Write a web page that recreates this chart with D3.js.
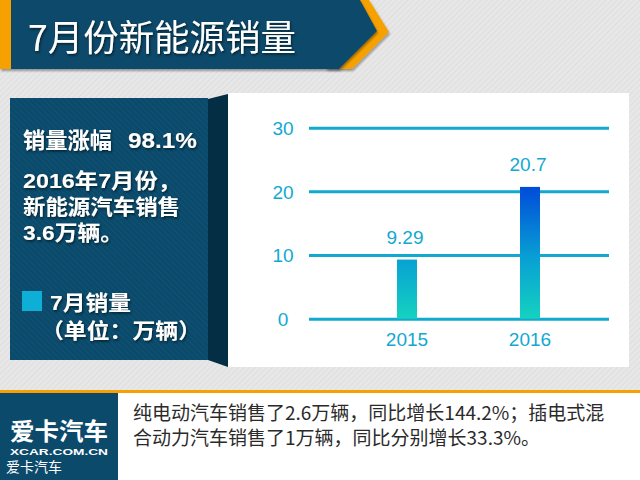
<!DOCTYPE html>
<html><head><meta charset="utf-8">
<script src="https://cdn.jsdelivr.net/npm/d3@7"></script>
<style>
html,body{margin:0;padding:0;background:#e6e6e6;}
svg{display:block;}
</style></head>
<body>
<svg id="c" width="640" height="480"></svg>
<script>
// ---- data ----
const categories = ["2015", "2016"];
const values = [9.29, 20.7];
const valueLabels = ["9.29", "20.7"];
const yTicks = [0, 10, 20, 30];
const titleText = "7月份新能源销量";
const headline = ["销量涨幅", "98.1%"];
const summaryLines = ["2016年7月份，", "新能源汽车销售", "3.6万辆。"];
const legendLines = ["7月销量", "（单位：万辆）"];
const noteLines = ["纯电动汽车销售了2.6万辆，同比增长144.2%；插电式混", "合动力汽车销售了1万辆，同比分别增长33.3%。"];
const logoLines = ["爱卡汽车", "XCAR.COM.CN", "爱卡汽车"];

const CJK = "'Noto Sans CJK SC','Noto Sans',sans-serif";
const LAT = "'Liberation Sans',Arial,sans-serif";
const MIX = "'Liberation Sans','Noto Sans CJK SC',sans-serif";
const cyan = "#11a9d0";

const svg = d3.select("#c");
const defs = svg.append("defs");

// textures
const bgPat = defs.append("pattern").attr("id","bgPat").attr("width",4).attr("height",4)
  .attr("patternUnits","userSpaceOnUse").attr("patternTransform","rotate(45)");
bgPat.append("rect").attr("width",4).attr("height",4).attr("fill","#e7e7e7");
bgPat.append("rect").attr("width",1).attr("height",4).attr("fill","#dedede");

const pnPat = defs.append("pattern").attr("id","pnPat").attr("width",4).attr("height",4)
  .attr("patternUnits","userSpaceOnUse").attr("patternTransform","rotate(-45)");
pnPat.append("rect").attr("width",4).attr("height",4).attr("fill","#0b4a6b");
pnPat.append("rect").attr("width",1).attr("height",4).attr("fill","#0f5274");

const sh = defs.append("filter").attr("id","sh").attr("x","-10%").attr("y","-10%").attr("width","130%").attr("height","140%");
sh.append("feDropShadow").attr("dx",1).attr("dy",2).attr("stdDeviation",1.2).attr("flood-color","#000").attr("flood-opacity",0.35);
const tsh = defs.append("filter").attr("id","tsh").attr("x","-5%").attr("y","-20%").attr("width","120%").attr("height","150%");
tsh.append("feDropShadow").attr("dx",1).attr("dy",1.5).attr("stdDeviation",0.8).attr("flood-color","#001a28").attr("flood-opacity",0.9);

// background
svg.append("rect").attr("width",640).attr("height",480).attr("fill","url(#bgPat)");

// title banner
svg.append("polygon").attr("points","339,0 369,0 389,32 352,69 326,69").attr("fill","#f7a100").attr("filter","url(#sh)");
svg.append("polygon").attr("points","0,0 360,0 377,31 339,69 0,69").attr("fill","#0b4a6b").attr("filter","url(#sh)");
svg.append("rect").attr("x",0).attr("y",0).attr("width",11).attr("height",69).attr("fill","#f7a100");
svg.append("text").attr("x",28).attr("y",51).attr("fill","#fff")
  .attr("font-family",CJK).attr("font-size",36).attr("filter","url(#tsh)")
  .attr("textLength",268).attr("lengthAdjust","spacingAndGlyphs").text(titleText);

// left panel
svg.append("polygon").attr("points","208,99 228,94 228,367 208,360").attr("fill","#032e44");
svg.append("rect").attr("x",10).attr("y",98).attr("width",198).attr("height",262).attr("fill","url(#pnPat)");

const lt = svg.append("g").attr("fill","#fff").attr("font-family",MIX).attr("filter","url(#tsh)").attr("font-weight","bold");
lt.append("text").attr("x",23).attr("y",148).attr("font-size",22).attr("font-family",CJK)
  .attr("textLength",89).attr("lengthAdjust","spacingAndGlyphs").text(headline[0]);
lt.append("text").attr("x",128).attr("y",148).attr("font-size",22)
  .attr("textLength",69).attr("lengthAdjust","spacingAndGlyphs").text(headline[1]);
const sumLen = [158, 157, 100];
summaryLines.forEach((s,i)=>{
  lt.append("text").attr("x",23).attr("y",[188,214,240][i]).attr("font-size",21)
    .attr("textLength",sumLen[i]).attr("lengthAdjust","spacingAndGlyphs").text(s);
});
svg.append("rect").attr("x",22).attr("y",291).attr("width",20).attr("height",20).attr("fill","#0eafd6");
lt.append("text").attr("x",50).attr("y",310).attr("font-size",21)
  .attr("textLength",81).attr("lengthAdjust","spacingAndGlyphs").text(legendLines[0]);
lt.append("text").attr("x",41).attr("y",338).attr("font-size",21).attr("font-family",CJK)
  .attr("textLength",160).attr("lengthAdjust","spacingAndGlyphs").text(legendLines[1]);

// chart panel
svg.append("rect").attr("x",228).attr("y",93).attr("width",401).attr("height",274).attr("fill","#fff");

const y = d3.scaleLinear().domain([0,30]).range([318.7,127.7]);
const x = d3.scaleBand().domain(categories).range([345.5,591.5]).paddingInner(0.8374).paddingOuter(0.4187);

const grad = defs.append("linearGradient").attr("id","barGrad").attr("gradientUnits","userSpaceOnUse")
  .attr("x1",0).attr("x2",0).attr("y1",y(0)).attr("y2",y(21.3));
grad.append("stop").attr("offset",0).attr("stop-color","#14d2bf");
grad.append("stop").attr("offset",0.45).attr("stop-color","#08a0d4");
grad.append("stop").attr("offset",1).attr("stop-color","#0047d9");

const yAxis = d3.axisLeft(y).tickValues(yTicks).tickSize(-300).tickPadding(0).tickFormat(d3.format("d"));
const ga = svg.append("g").attr("transform","translate(309,0)").call(yAxis);
ga.select(".domain").remove();
ga.selectAll(".tick line").attr("stroke",cyan).attr("stroke-width",3);
ga.selectAll(".tick text").attr("x",-26).attr("dy","0.35em").attr("text-anchor","middle")
  .attr("fill",cyan).attr("font-family",LAT).attr("font-size",19);

svg.append("g").selectAll("rect").data(values).join("rect")
  .attr("x",(d,i)=>x(categories[i])).attr("width",x.bandwidth())
  .attr("y",d=>y(d)).attr("height",d=>y(0)-y(d)).attr("fill","url(#barGrad)");

svg.append("g").selectAll("text").data(values).join("text")
  .attr("x",(d,i)=>x(categories[i])+x.bandwidth()/2-2).attr("y",d=>y(d)-16)
  .attr("text-anchor","middle").attr("fill",cyan).attr("font-family",LAT).attr("font-size",19)
  .text((d,i)=>valueLabels[i]);

const xAxis = d3.axisBottom(x).tickSize(0).tickPadding(0);
const gx = svg.append("g").attr("transform",`translate(0,${y(0)})`).call(xAxis);
gx.select(".domain").remove();
gx.selectAll(".tick text").attr("y",27).attr("dy",0).attr("fill",cyan).attr("font-family",LAT).attr("font-size",19);

// bottom strip
svg.append("rect").attr("x",0).attr("y",393).attr("width",640).attr("height",87).attr("fill","#fff");
svg.append("rect").attr("x",0).attr("y",390).attr("width",640).attr("height",3).attr("fill","#f7a100");
svg.append("rect").attr("x",0).attr("y",393).attr("width",118).attr("height",87).attr("fill","#0b4a6b");
svg.append("text").attr("x",10).attr("y",440).attr("fill","#fff").attr("font-family",CJK)
  .attr("font-size",24).attr("font-weight","bold").attr("textLength",98).attr("lengthAdjust","spacingAndGlyphs").text(logoLines[0]);
svg.append("text").attr("x",10).attr("y",455).attr("fill","#fff").attr("font-family",LAT)
  .attr("font-size",9.5).attr("font-weight","bold").attr("textLength",98).attr("lengthAdjust","spacingAndGlyphs").text(logoLines[1]);
svg.append("text").attr("x",6).attr("y",472).attr("fill","#fff").attr("font-family",CJK)
  .attr("font-size",14).text(logoLines[2]);
noteLines.forEach((s,i)=>{
  svg.append("text").attr("x",133).attr("y",420+i*25).attr("fill","#2a2a2a").attr("font-family",CJK)
    .attr("font-size",19).text(s);
});
</script>
</body></html>
